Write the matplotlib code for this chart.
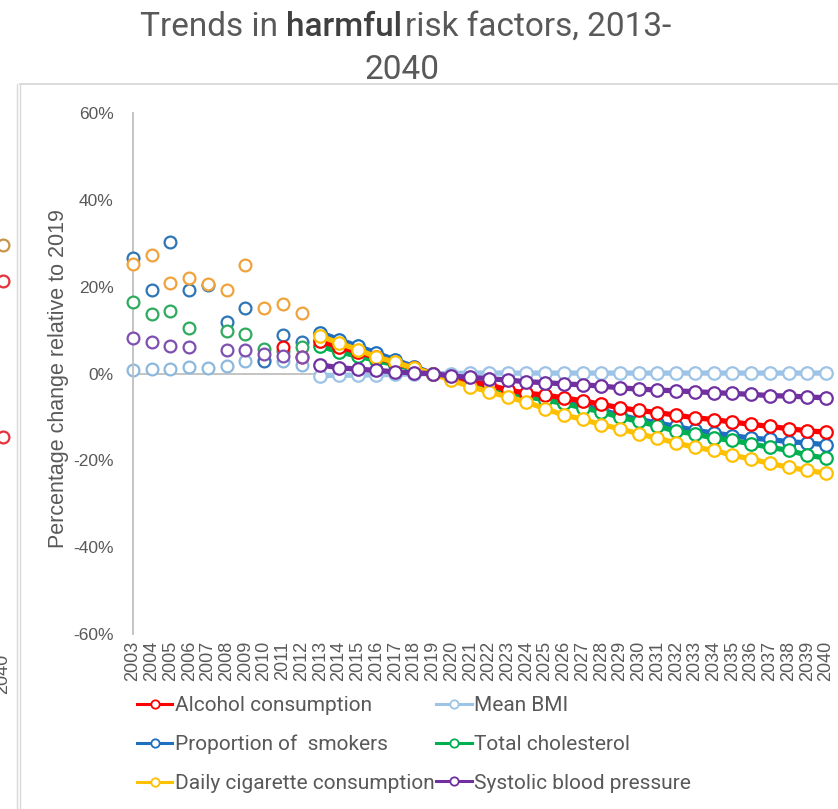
import numpy as np
import matplotlib.pyplot as plt
from matplotlib.lines import Line2D

# % change relative to 2019
hist_years = list(range(2003, 2013))
proj_years = list(range(2013, 2041))

# observed points, 2003-2012 (None = no observation)
hist_alcohol = [None, None, None, None, None, None, None, None, 6.0, 3.7]
hist_bmi = [0.9, 1.1, 1.1, 1.6, 1.2, 1.8, 2.9, 3.2, 2.9, 2.0]
hist_smokers = [26.6, 19.2, 30.3, 19.2, 20.3, 11.9, 15.2, 2.8, 8.8, 7.2]
hist_cholesterol = [16.4, 13.6, 14.3, 10.5, None, 9.8, 9.2, 5.6, 5.1, 6.0]
hist_cigarettes = [25.3, 27.4, 20.9, 22.0, 20.6, 19.2, 24.9, 15.2, 16.1, 14.0]
hist_sbp = [8.1, 7.3, 6.4, 6.1, None, 5.3, 5.5, 4.5, 4.0, 3.7]

# trend / projection, 2013-2040
alcohol = [7.4, 6.2, 4.9, 3.7, 2.5, 1.2, 0.0, -0.9, -1.8, -2.6, -3.8, -4.5, -5.0, -5.6,
           -6.3, -7.1, -7.9, -8.5, -9.0, -9.6, -10.2, -10.6, -11.2, -11.7, -12.2, -12.7,
           -13.2, -13.5]
bmi = [-0.5, -0.4, -0.4, -0.3, -0.2, -0.1, 0.0, 0.0, 0.1, 0.1, 0.1, 0.1, 0.1, 0.1,
       0.1, 0.1, 0.1, 0.1, 0.1, 0.1, 0.1, 0.1, 0.1, 0.1, 0.1, 0.1, 0.1, 0.1]
smokers = [9.4, 7.8, 6.3, 4.7, 3.1, 1.6, 0.0, -1.0, -2.0, -3.0, -4.0, -5.1, -5.7, -6.7,
           -7.4, -8.4, -9.6, -10.6, -11.4, -12.2, -13.1, -13.7, -14.3, -14.9, -15.2,
           -15.7, -16.0, -16.4]
cholesterol = [6.3, 5.0, 4.0, 3.0, 2.0, 1.0, 0.0, -1.0, -2.0, -3.0, -4.2, -5.3, -6.1,
               -6.9, -7.9, -8.8, -10.1, -11.0, -12.1, -13.3, -13.9, -14.9, -15.4, -16.2,
               -17.0, -17.7, -18.8, -19.5]
cigarettes = [8.6, 7.0, 5.5, 3.8, 2.6, 1.2, 0.0, -1.6, -3.0, -4.2, -5.4, -6.6, -8.1,
              -9.6, -10.5, -11.8, -12.7, -13.9, -14.9, -16.0, -17.0, -17.7, -18.8, -19.7,
              -20.7, -21.6, -22.3, -23.0]
sbp = [2.0, 1.3, 1.0, 0.7, 0.4, 0.1, 0.0, -0.6, -0.9, -1.2, -1.5, -1.9, -2.1, -2.4,
       -2.6, -2.9, -3.3, -3.6, -3.8, -4.0, -4.2, -4.4, -4.6, -4.8, -5.1, -5.2, -5.4, -5.6]

# bits of the neighbouring panel (2040 column)
nb_values = [29.5, 21.4, -14.7]
nb_colors = ['#C89448', '#E8303A', '#E8303A']

labels = ['Alcohol consumption', 'Mean BMI', 'Proportion of  smokers',
          'Total cholesterol', 'Daily cigarette consumption', 'Systolic blood pressure']

GREY = '#595959'
narrow = ['Roboto', 'DejaVu Sans']
plt.rcParams['font.family'] = ['Liberation Sans', 'DejaVu Sans']

W, H = 838, 809
fig = plt.figure(figsize=(W / 100, H / 100), dpi=100)

def fx(px):
    return px / W

def fy(py):
    return 1 - py / H

ax = fig.add_axes([fx(133), fy(634), fx(826) - fx(133), fy(113) - fy(634)])

series = [
    # label, hist, proj, line colour, hist colour, zorder
    (labels[0], hist_alcohol, alcohol, '#FF0000', '#FF0000', 5),
    (labels[1], hist_bmi, bmi, '#9DC3E6', '#8DB8DE', 2),
    (labels[2], hist_smokers, smokers, '#1F6FC0', '#2E75B6', 3),
    (labels[3], hist_cholesterol, cholesterol, '#00B050', '#2EAB5E', 4),
    (labels[4], hist_cigarettes, cigarettes, '#FFC000', '#F0A33C', 6),
    (labels[5], hist_sbp, sbp, '#7030A0', '#7F4FB0', 7),
]

ax.axhline(0, color='#BFBFBF', lw=1.3, zorder=1)

handles = {}
for name, hv, pv, c, hc, z in series:
    ax.plot(hist_years, np.array(hv, dtype=float), ls='none', marker='o', ms=8.5,
            mfc='white', mec=hc, mew=1.6, zorder=z, clip_on=False)
    ax.plot(proj_years, pv, color=c, lw=3.8, marker='o', ms=9, mfc='white',
            mec=c, mew=1.6, zorder=z + 10, clip_on=False, solid_capstyle='butt')
    handles[name] = Line2D([], [], color=c, lw=2.2, marker='o', ms=6, mfc='white',
                           mec=c, mew=1.3)

ax.set_xlim(2003, 2040)
ax.set_ylim(-60, 60)
ax.set_yticks(range(-60, 61, 20))
ax.set_yticklabels([f'{v}%' for v in range(-60, 61, 20)])
ax.set_xticks(range(2003, 2041))
ax.set_xticklabels([str(y) for y in range(2003, 2041)], rotation=90)
ax.tick_params(axis='y', length=0, pad=14, labelsize=12.5, labelcolor=GREY)
ax.tick_params(axis='x', length=0, pad=5, labelsize=13, labelcolor=GREY)
for s in ['top', 'right', 'bottom']:
    ax.spines[s].set_visible(False)
ax.spines['left'].set_color('#BFBFBF')
ax.spines['left'].set_linewidth(1.3)

ax.set_ylabel('Percentage change relative to 2019', fontsize=15.5, color=GREY)
ax.yaxis.set_label_coords(-0.092, 0.49)

# legend, filled row by row
order = [labels[0], labels[2], labels[4], labels[1], labels[3], labels[5]]
fig.legend([handles[k] for k in order], order, ncol=2, frameon=False,
           loc='upper left', bbox_to_anchor=(fx(137), fy(696)),
           prop={'family': narrow, 'size': 15}, labelcolor=GREY,
           handlelength=1.7, handletextpad=0.1, columnspacing=0.1,
           labelspacing=0.95, borderpad=0, borderaxespad=0)

# title with one bold word
t1 = fig.text(fx(140), fy(43), 'Trends in ', fontsize=24, color=GREY,
              family=narrow, va='bottom')
a2 = plt.annotate('harmful', xy=(1, 0), xycoords=t1, fontsize=24, color='#404040',
                  family=narrow, weight='medium', va='bottom', ha='left')
a3 = plt.annotate('risk factors, 2013-', xy=(1, 0), xycoords=a2, xytext=(2, 0),
                  textcoords='offset points', fontsize=24, color=GREY,
                  family=narrow, va='bottom', ha='left')
fig.text(fx(402), fy(79), '2040', fontsize=24, color=GREY, family=narrow,
         ha='center', va='baseline')

# panel frame
fig.add_artist(Line2D([fx(20), 1], [fy(84), fy(84)], color='#D9D9D9', lw=1.3))
fig.add_artist(Line2D([fx(17), fx(17)], [fy(84), 0], color='#D9D9D9', lw=1.0))
fig.add_artist(Line2D([fx(20), fx(20)], [fy(84), 0], color='#D9D9D9', lw=1.0))

# clipped edge of the neighbouring chart
nb = fig.add_axes([fx(-40), fy(634), fx(43) - fx(0), fy(113) - fy(634)])
nb.set_xlim(2039, 2040)
nb.set_ylim(-60, 60)
for v, c in zip(nb_values, nb_colors):
    nb.plot([2040], [v], ls='none', marker='o', ms=8.5, mfc='white', mec=c, mew=1.6,
            clip_on=False)
nb.set_xticks([2040])
nb.set_xticklabels(['2040'], rotation=90)
nb.set_yticks([])
nb.tick_params(axis='x', length=0, pad=14, labelsize=13, labelcolor=GREY)
for s in nb.spines.values():
    s.set_visible(False)
nb.patch.set_visible(False)

fig.savefig('out.png', dpi=100)
